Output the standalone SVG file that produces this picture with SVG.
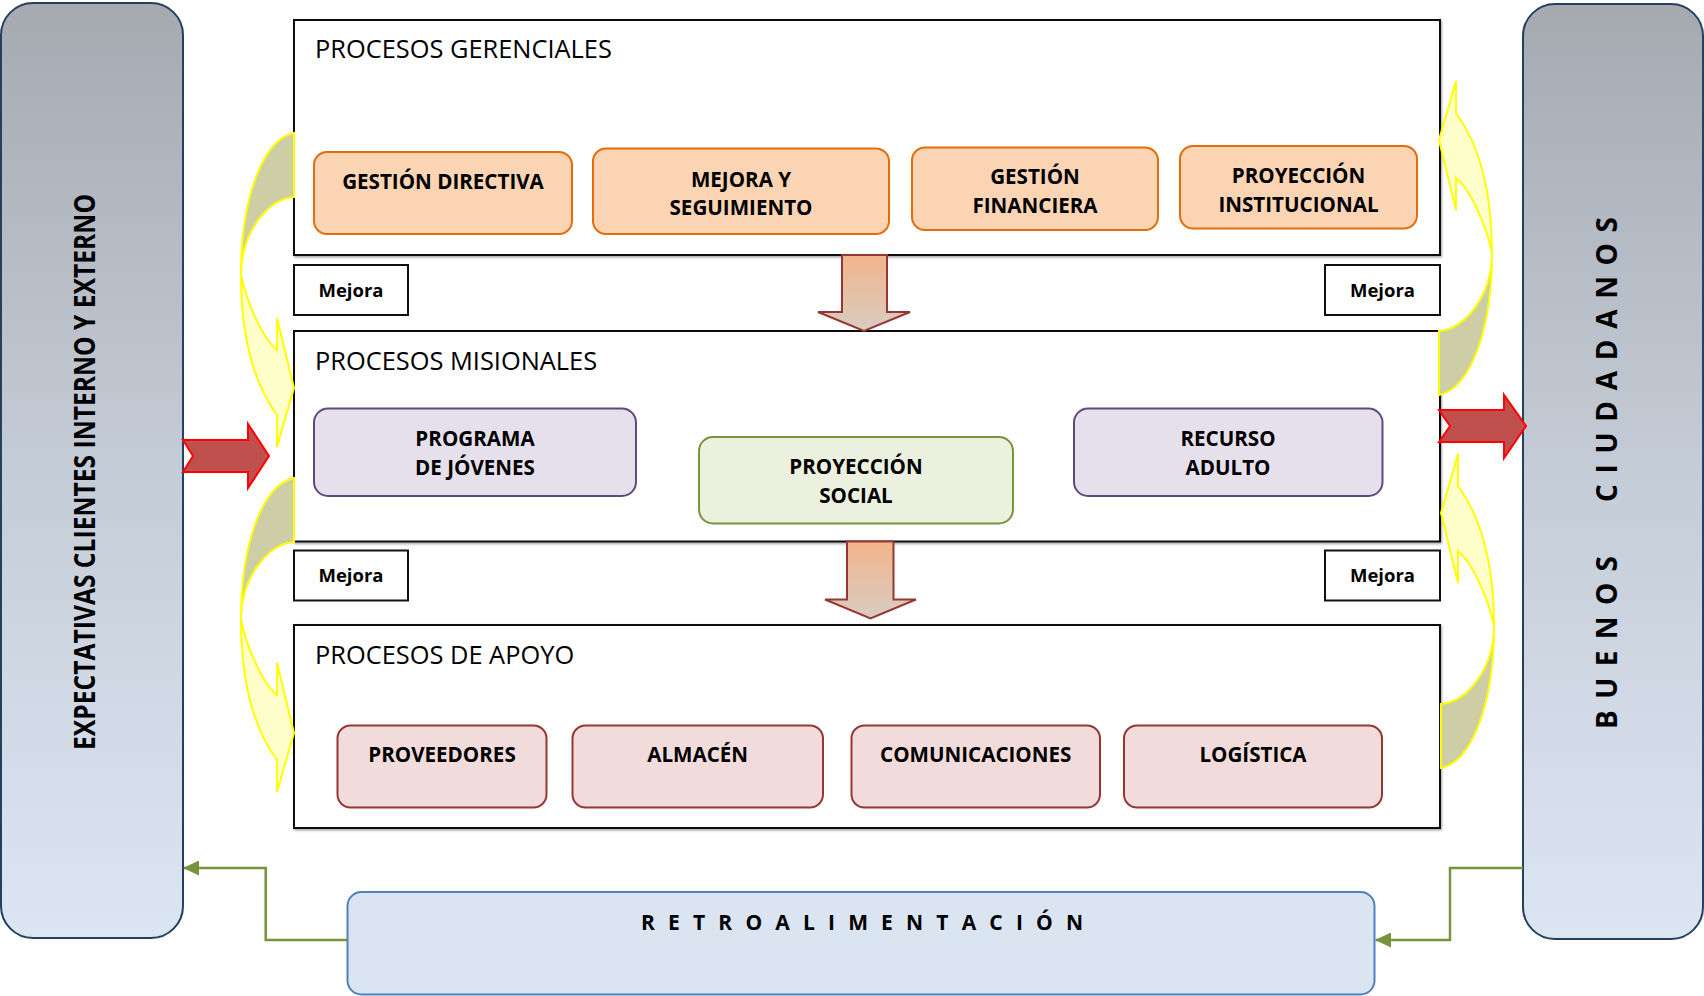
<svg xmlns="http://www.w3.org/2000/svg" width="1704" height="996" viewBox="0 0 1704 996">
<style>
text{font-family:"Open Sans","Liberation Sans",sans-serif;fill:#000}
.ttl{font-size:25.4px;font-weight:400}
.lbl{font-size:20.6px;font-weight:700;text-anchor:middle}
.mej{font-size:18.5px;font-weight:700;text-anchor:middle}
.vt{font-size:28px;font-weight:700}
.proc{fill:#fff;stroke:#111;stroke-width:2}
.mbox{fill:#fff;stroke:#111;stroke-width:2}
.side{fill:url(#sideG);stroke:#243f60;stroke-width:2}
.or{fill:#fbd4b4;stroke:#e46c0a;stroke-width:2}
.pu{fill:#e5e0ec;stroke:#604a7b;stroke-width:2}
.gr{fill:#ebf1de;stroke:#77933c;stroke-width:2}
.rd{fill:#f2dcdb;stroke:#953735;stroke-width:2}
.retro{fill:#dbe5f1;stroke:#4f81bd;stroke-width:2}
.down{fill:url(#downG);stroke:#953735;stroke-width:2}
.red{fill:#c0504d;stroke:#ff0000;stroke-width:2}
.ybk{fill:#cdcda6;stroke:#ffff00;stroke-width:2}
.yfr{fill:#ffffcc;stroke:#ffff00;stroke-width:2}
.fb{fill:none;stroke:#77933c;stroke-width:2.5}
</style>
<defs>
<linearGradient id="sideG" x1="0" y1="0" x2="0" y2="1">
<stop offset="0" stop-color="#a5aab1"/>
<stop offset="0.5" stop-color="#c4ccd7"/>
<stop offset="1" stop-color="#dce6f2"/>
</linearGradient>
<linearGradient id="downG" x1="0" y1="0" x2="0" y2="1">
<stop offset="0" stop-color="#f2b48a"/>
<stop offset="1" stop-color="#d8cdc2"/>
</linearGradient>
<filter id="sh" x="-5%" y="-5%" width="110%" height="115%">
<feDropShadow dx="1" dy="1.5" stdDeviation="0.8" flood-color="#000" flood-opacity="0.35"/>
</filter>
<marker id="ga" markerWidth="16" markerHeight="15" refX="15" refY="7.5" orient="auto" markerUnits="userSpaceOnUse">
<path d="M0,0 L16,7.5 L0,15 Z" fill="#77933c"/>
</marker>
<g id="curv">
<path class="ybk" d="M294,133 C262,140 241,200 241,275 C241,232 268,199 294,197 Z"/>
<path class="yfr" d="M241,275 C246,300 262,338 277,350 L277,318 L294,388 L277,447 L277,415 C255,385 241,340 241,275 Z"/>
</g>
</defs>

<rect width="1704" height="996" fill="#fff"/>

<g id="expectativas">
<rect class="side" x="1" y="3" width="182" height="935" rx="32"/>
<text class="vt" font-size="29" transform="translate(95,750) rotate(-90)" textLength="556" lengthAdjust="spacingAndGlyphs">EXPECTATIVAS CLIENTES INTERNO Y EXTERNO</text>
</g>

<g id="buenos-ciudadanos">
<rect class="side" x="1523" y="4" width="180" height="935" rx="32"/>
<text class="vt" transform="translate(1617,729) rotate(-90)"><tspan x="0" y="0" textLength="173" lengthAdjust="spacing">BUENOS</tspan> <tspan x="227" y="0" textLength="285" lengthAdjust="spacing">CIUDADANOS</tspan></text>
</g>

<g id="procesos-gerenciales">
<rect class="proc" x="294" y="20" width="1146" height="235" filter="url(#sh)"/>
<text class="ttl" x="315" y="58">PROCESOS GERENCIALES</text>
</g>
<g id="gestion-directiva">
<rect class="or" x="314" y="152" width="258" height="82" rx="13"/>
<text class="lbl" x="443" y="189">GESTIÓN DIRECTIVA</text>
</g>
<g id="mejora-seguimiento">
<rect class="or" x="593" y="148.5" width="296" height="85.5" rx="13"/>
<text class="lbl" x="741" y="186.5">MEJORA Y</text>
<text class="lbl" x="741" y="215">SEGUIMIENTO</text>
</g>
<g id="gestion-financiera">
<rect class="or" x="912" y="147.5" width="246" height="82.5" rx="13"/>
<text class="lbl" x="1035" y="184">GESTIÓN</text>
<text class="lbl" x="1035" y="212.5">FINANCIERA</text>
</g>
<g id="proyeccion-institucional">
<rect class="or" x="1180" y="146" width="237" height="82.5" rx="13"/>
<text class="lbl" x="1298.5" y="183">PROYECCIÓN</text>
<text class="lbl" x="1298.5" y="211.5">INSTITUCIONAL</text>
</g>

<g id="mejora-1"><rect class="mbox" x="294" y="265" width="114" height="50"/><text class="mej" x="351" y="296.7">Mejora</text></g>
<g id="mejora-2"><rect class="mbox" x="1325" y="265" width="115" height="50"/><text class="mej" x="1382.5" y="296.7">Mejora</text></g>

<g id="procesos-misionales">
<rect class="proc" x="294" y="331" width="1146" height="210.5" filter="url(#sh)"/>
<text class="ttl" x="315" y="369.5">PROCESOS MISIONALES</text>
</g>
<g id="programa-jovenes">
<rect class="pu" x="314" y="408.5" width="322" height="87.5" rx="14"/>
<text class="lbl" x="475" y="446">PROGRAMA</text>
<text class="lbl" x="475" y="475">DE JÓVENES</text>
</g>
<g id="proyeccion-social">
<rect class="gr" x="699" y="437" width="314" height="86.5" rx="14"/>
<text class="lbl" x="856" y="474">PROYECCIÓN</text>
<text class="lbl" x="856" y="503">SOCIAL</text>
</g>
<g id="recurso-adulto">
<rect class="pu" x="1074" y="408.5" width="308.5" height="87.5" rx="14"/>
<text class="lbl" x="1228" y="446">RECURSO</text>
<text class="lbl" x="1228" y="475">ADULTO</text>
</g>

<g id="mejora-3"><rect class="mbox" x="294" y="550.5" width="114" height="50"/><text class="mej" x="351" y="582">Mejora</text></g>
<g id="mejora-4"><rect class="mbox" x="1325" y="550.5" width="115" height="50"/><text class="mej" x="1382.5" y="582">Mejora</text></g>

<g id="procesos-apoyo">
<rect class="proc" x="294" y="625" width="1146" height="203" filter="url(#sh)"/>
<text class="ttl" x="315" y="664">PROCESOS DE APOYO</text>
</g>
<g id="proveedores">
<rect class="rd" x="337.5" y="725.5" width="209" height="82" rx="13"/>
<text class="lbl" x="442" y="762">PROVEEDORES</text>
</g>
<g id="almacen">
<rect class="rd" x="572.5" y="725.5" width="250.5" height="82" rx="13"/>
<text class="lbl" x="697.7" y="762">ALMACÉN</text>
</g>
<g id="comunicaciones">
<rect class="rd" x="851.5" y="725.5" width="248.5" height="82" rx="13"/>
<text class="lbl" x="975.7" y="762">COMUNICACIONES</text>
</g>
<g id="logistica">
<rect class="rd" x="1124" y="725.5" width="258" height="82" rx="13"/>
<text class="lbl" x="1253" y="762">LOGÍSTICA</text>
</g>

<g id="retroalimentacion">
<rect class="retro" x="347.5" y="892" width="1027" height="102.5" rx="14"/>
<text x="641" y="930" font-size="21" font-weight="700" textLength="442" lengthAdjust="spacing">RETROALIMENTACIÓN</text>
</g>

<g id="connectors">
<path class="down" d="M842,255 L887,255 L887,312 L910,312 L864,331 L818,312 L842,312 Z"/>
<path class="down" d="M847,541.5 L893.5,541.5 L893.5,599.5 L916,599.5 L870.5,618.5 L825,599.5 L847,599.5 Z"/>
<use href="#curv"/>
<use href="#curv" transform="translate(0,345)"/>
<use href="#curv" transform="matrix(-1,0,0,-1,1733,528)"/>
<use href="#curv" transform="matrix(-1,0,0,-1,1735,901)"/>
<path class="red" d="M183,440 L248,440 L248,424 L269,456 L248,488 L248,472 L183,472 L193,456 Z"/>
<path class="red" d="M1439,410 L1504,410 L1504,395 L1526,426 L1504,458 L1504,442 L1439,442 L1450,426 Z"/>
<path class="fb" d="M347.5,940 L265.7,940 L265.7,868 L184,868" marker-end="url(#ga)"/>
<path class="fb" d="M1523,868 L1450,868 L1450,940 L1376,940" marker-end="url(#ga)"/>
</g>
</svg>
